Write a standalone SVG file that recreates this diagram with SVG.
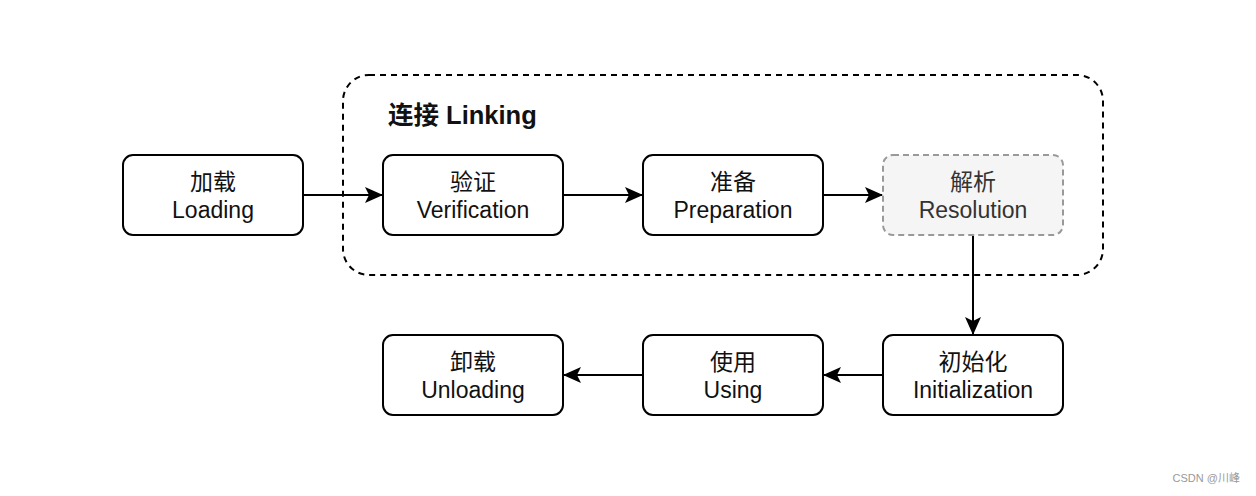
<svg xmlns="http://www.w3.org/2000/svg" width="1256" height="496" viewBox="0 0 1256 496">
<style>
.box{fill:#fff;stroke:#000;stroke-width:2}
.ghost{fill:#f5f5f5;stroke:#999;stroke-width:2;stroke-dasharray:6 4}
.t{font-family:"Liberation Sans","Noto Sans CJK SC",sans-serif;font-size:23px;text-anchor:middle;fill:#111}
.tg{fill:#333}
.edge{stroke:#000;stroke-width:2;fill:none;marker-end:url(#ah)}
</style>
<defs>
<marker id="ah" viewBox="0 0 20 20" refX="18" refY="10" markerWidth="20" markerHeight="20" markerUnits="userSpaceOnUse" orient="auto">
<path d="M1,2 L19,10 L1,18 L5,10 Z" fill="#000"/>
</marker>
</defs>
<rect width="1256" height="496" fill="#fff"/>
<g id="linking">
<rect x="343" y="75" width="760" height="200" rx="26" fill="none" stroke="#000" stroke-width="2" stroke-dasharray="6 5"/>
<text x="388" y="124" style="font-family:'Liberation Sans','Noto Sans CJK SC',sans-serif;font-size:25.5px;font-weight:bold;fill:#111">连接 Linking</text>
</g>
<g id="connectors">
<path class="edge" d="M303,195 L382,195"/>
<path class="edge" d="M563,195 L642,195"/>
<path class="edge" d="M823,195 L882,195"/>
<path class="edge" d="M973,235 L973,334"/>
<path class="edge" d="M883,375 L824,375"/>
<path class="edge" d="M643,375 L564,375"/>
</g>
<g id="loading">
<rect class="box" x="123" y="155" width="180" height="80" rx="10"/>
<text class="t" x="213" y="190">加载</text>
<text class="t" x="213" y="218">Loading</text>
</g>
<g id="verification">
<rect class="box" x="383" y="155" width="180" height="80" rx="10"/>
<text class="t" x="473" y="190">验证</text>
<text class="t" x="473" y="218">Verification</text>
</g>
<g id="preparation">
<rect class="box" x="643" y="155" width="180" height="80" rx="10"/>
<text class="t" x="733" y="190">准备</text>
<text class="t" x="733" y="218">Preparation</text>
</g>
<g id="resolution">
<rect class="ghost" x="883" y="155" width="180" height="80" rx="10"/>
<text class="t tg" x="973" y="190">解析</text>
<text class="t tg" x="973" y="218">Resolution</text>
</g>
<g id="initialization">
<rect class="box" x="883" y="335" width="180" height="80" rx="10"/>
<text class="t" x="973" y="370">初始化</text>
<text class="t" x="973" y="398">Initialization</text>
</g>
<g id="using">
<rect class="box" x="643" y="335" width="180" height="80" rx="10"/>
<text class="t" x="733" y="370">使用</text>
<text class="t" x="733" y="398">Using</text>
</g>
<g id="unloading">
<rect class="box" x="383" y="335" width="180" height="80" rx="10"/>
<text class="t" x="473" y="370">卸载</text>
<text class="t" x="473" y="398">Unloading</text>
</g>
<text x="1240" y="482" style="font-family:'Liberation Sans','Noto Sans CJK SC',sans-serif;font-size:11px;text-anchor:end;fill:#999">CSDN @川峰</text>
</svg>
